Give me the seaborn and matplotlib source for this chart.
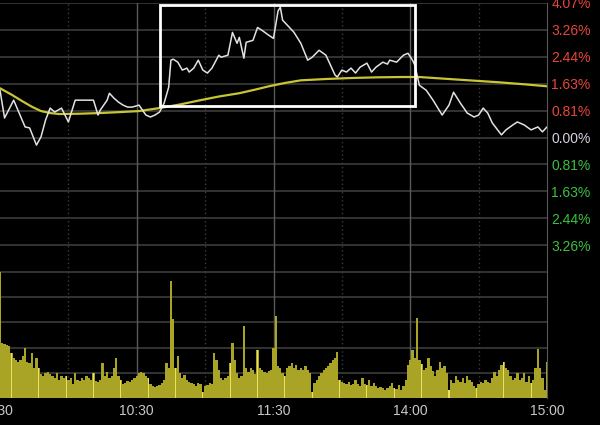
import numpy as np
import pandas as pd
import matplotlib
matplotlib.use("Agg")
import matplotlib.pyplot as plt
import seaborn as sns
from matplotlib.patches import Rectangle

# ── Data ──────────────────────────────────────────────────────────────────────
# minute index since 9:30 (0..240, lunch break removed) and % change
price_min = [0, 2, 6, 11, 13, 16, 18, 20, 22, 24, 27, 30, 33, 41, 43, 44, 47, 48,
             50, 52, 54, 56, 58, 61, 64, 66, 68, 70, 72, 74, 75, 76, 78, 80, 82,
             83, 85, 87, 89, 91, 93, 96, 97, 100, 102, 104, 105, 107, 108, 111,
             113, 115, 118, 120, 122, 123, 124, 127, 129, 132, 135, 137, 140, 143,
             145, 147, 148, 150, 152, 154, 156, 158, 161, 163, 165, 168, 170, 171,
             174, 177, 179, 181, 182, 184, 187, 190, 194, 197, 199, 202, 205, 208,
             210, 212, 214, 216, 220, 222, 225, 227, 230, 233, 236, 238, 240]
price_pct = [1.43, 0.59, 1.13, 0.32, 0.29, -0.23, 0.02, 0.53, 0.89, 0.77, 0.89,
             0.47, 1.13, 1.13, 0.68, 0.83, 1.13, 1.34, 1.19, 1.07, 0.98, 0.92,
             0.92, 0.98, 0.68, 0.62, 0.68, 0.77, 1.04, 1.52, 2.34, 2.37, 2.28,
             2.04, 2.10, 1.98, 2.10, 2.34, 2.04, 1.95, 2.10, 2.49, 2.43, 2.49,
             3.18, 2.85, 3.03, 2.40, 2.88, 2.94, 3.33, 3.24, 3.09, 3.00, 3.83,
             3.94, 3.55, 3.33, 3.18, 2.85, 2.34, 2.43, 2.64, 2.49, 2.19, 1.89,
             1.83, 2.04, 1.98, 2.10, 1.95, 2.13, 2.25, 1.98, 2.13, 2.28, 2.22,
             2.34, 2.28, 2.49, 2.55, 2.34, 2.19, 1.58, 1.43, 1.13, 0.68, 0.98,
             1.37, 1.04, 0.74, 0.62, 0.68, 0.89, 0.74, 0.44, 0.08, 0.23, 0.38,
             0.47, 0.38, 0.23, 0.32, 0.17, 0.32]

avg_min = [0, 5, 9, 14, 18, 22, 26, 35, 44, 53, 61, 70, 79, 88, 96, 105, 112,
           118, 125, 132, 143, 154, 165, 176, 184, 197, 208, 219, 230, 240]
avg_pct = [1.49, 1.30, 1.13, 0.93, 0.80, 0.74, 0.71, 0.72, 0.74, 0.77, 0.80,
           0.89, 1.00, 1.13, 1.24, 1.34, 1.45, 1.55, 1.65, 1.73, 1.77, 1.80,
           1.82, 1.83, 1.83, 1.77, 1.72, 1.67, 1.61, 1.55]

volume = [
    125, 55, 54, 53, 52, 45, 40, 38, 36, 38,
    42, 50, 36, 35, 45, 30, 40, 30, 24, 22,
    25, 26, 24, 22, 20, 25, 18, 22, 20, 22,
    18, 20, 14, 25, 18, 17, 20, 18, 22, 20,
    18, 25, 17, 16, 18, 35, 22, 26, 20, 22,
    30, 40, 22, 18, 14, 15, 17, 16, 18, 20,
    22, 25, 26, 25, 22, 20, 14, 12, 11, 12,
    13, 15, 18, 35, 30, 116, 78, 30, 42, 25,
    20, 23, 18, 16, 15, 14, 12, 15, 14, 6,
    12, 13, 15, 14, 45, 38, 28, 20, 18, 20,
    22, 35, 55, 38, 25, 20, 22, 71, 30, 26,
    30, 28, 24, 48, 30, 28, 26, 25, 27, 28,
    50, 81, 32, 30, 25, 22, 30, 32, 35, 30,
    33, 28, 30, 28, 32, 28, 25, 6, 15, 18,
    22, 25, 28, 30, 32, 35, 38, 40, 46, 18,
    16, 15, 14, 16, 13, 14, 18, 14, 12, 20,
    14, 13, 18, 12, 15, 12, 10, 11, 10, 8,
    10, 12, 15, 10, 9, 13, 8, 12, 18, 33,
    38, 48, 40, 79, 38, 34, 28, 30, 40, 32,
    27, 22, 28, 36, 30, 32, 25, 8, 18, 15,
    22, 18, 16, 20, 15, 22, 18, 16, 12, 10,
    14, 16, 15, 18, 16, 15, 20, 26, 22, 28,
    33, 36, 30, 28, 22, 18, 20, 25, 18, 20,
    25, 16, 22, 15, 18, 30, 49, 30, 20, 8,
    36]

pct_ticks = [4.07, 3.26, 2.44, 1.63, 0.81, 0.00, -0.81, -1.63, -2.44, -3.26]
time_ticks = [0, 60, 120, 180, 240]
time_labels = ["9:30", "10:30", "11:30", "14:00", "15:00"]

# ── Style ─────────────────────────────────────────────────────────────────────
sns.set_style("dark")
plt.rcParams.update({
    "font.family": ["Liberation Sans", "DejaVu Sans"],
    "figure.facecolor": "black",
    "axes.facecolor": "black",
})
GRID = "#3c3c3c"
VGRID = "#5a5a5a"
RED, GREEN, ZERO = "#e8453c", "#3cc040", "#d8d0e0"
OLIVE, BRIGHT = "#aaa426", "#ece25a"

fig = plt.figure(figsize=(6, 4.25), dpi=100)
ax = fig.add_axes([0, 153 / 425, 547 / 600, 269 / 425])
axv = fig.add_axes([0, 27 / 425, 547 / 600, 126 / 425])

# ── Price panel ───────────────────────────────────────────────────────────────
for y in pct_ticks + [-4.07]:
    ax.axhline(y, color=GRID, lw=1.2, zorder=0)
for m in [60, 120, 180]:
    ax.axvline(m, color=VGRID, lw=1.0, zorder=0)
for m in [30, 90, 150, 210]:
    ax.axvline(m, color=GRID, lw=1.0, ls=(0, (1, 2)), zorder=0)

df_p = pd.DataFrame({"minute": price_min, "pct": price_pct})
df_a = pd.DataFrame({"minute": avg_min, "pct": avg_pct})
sns.lineplot(data=df_a, x="minute", y="pct", ax=ax, color="#c8c434", lw=1.6)
sns.lineplot(data=df_p, x="minute", y="pct", ax=ax, color="#e2e2e2", lw=1.1)

# highlight box
ax.add_patch(Rectangle((70.2, 0.95), 111.9, 3.05, fill=False, ec="white",
                       lw=2.0, clip_on=False, zorder=5))

ax.set_xlim(0, 240)
ax.set_ylim(-4.07, 4.07)
ax.set_xticks([])
ax.yaxis.tick_right()
ax.set_yticks(pct_ticks)
ax.set_yticklabels([f"{abs(v):.2f}%" for v in pct_ticks], fontsize=10)
ax.tick_params(axis="y", length=0, pad=3)
for lab, v in zip(ax.get_yticklabels(), pct_ticks):
    lab.set_color(RED if v > 0 else (GREEN if v < 0 else ZERO))
ax.set_xlabel(""); ax.set_ylabel("")
ax.grid(False)
for s in ["left", "top", "bottom"]:
    ax.spines[s].set_visible(False)
ax.spines["right"].set_color(VGRID)

# ── Volume panel ──────────────────────────────────────────────────────────────
for y in [25, 50, 75, 100, 125]:
    axv.axhline(y, color=GRID, lw=1.2, zorder=0)
for m in [60, 120, 180]:
    axv.axvline(m, color=VGRID, lw=1.0, zorder=0)
for m in [30, 90, 150, 210]:
    axv.axvline(m, color=GRID, lw=1.0, ls=(0, (1, 2)), zorder=0)

minutes = np.arange(len(volume))
axv.bar(minutes, volume, width=1.0, color=OLIVE, lw=0, zorder=2)
hi = minutes[5::12]
axv.bar(hi, [volume[i] for i in hi], width=0.45, color=BRIGHT, lw=0, zorder=3)

axv.set_xlim(0, 240)
axv.set_ylim(0, 125)
axv.set_yticks([])
axv.set_xticks(time_ticks)
axv.set_xticklabels(time_labels, fontsize=10, color="#c8c8c8")
axv.tick_params(axis="x", length=0, pad=4)
axv.grid(False)
for s in ["left", "top", "bottom"]:
    axv.spines[s].set_visible(False)
axv.spines["right"].set_color(VGRID)

fig.savefig("out.png", dpi=100, facecolor="black")
